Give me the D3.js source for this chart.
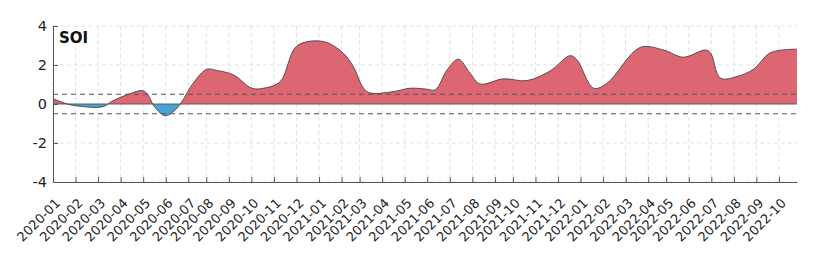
<!DOCTYPE html>
<html>
<head>
<meta charset="utf-8">
<script src="https://cdn.jsdelivr.net/npm/d3@7"></script>
<style>
  body { margin: 0; background: #fff; }
  svg { font-family: "DejaVu Sans", sans-serif; }
</style>
</head>
<body>
<div id="chart"></div>
<script>
// sample position (index along the axis) and SOI value
var pos = [0, 3.8, 6.7, 9.7, 11.5, 13, 16.4, 19.7, 20.8, 22.6, 24.9, 27.1, 28.6, 31.1, 34.1, 36.3,
  40, 44.1, 46.7, 50.4, 54.1, 60, 64.4, 66.6, 69.6, 74.8, 79.2, 82.9, 84.8, 87.4, 89.9, 92.5,
  94.7, 99.9, 105.1, 110.3, 114.7, 116.2, 119.9, 122.9, 130.2, 135.4, 139.8, 144.6, 145.8, 148,
  151.7, 155.4, 159.1, 165];
var soi = [0.27, -0.04, -0.13, -0.18, -0.1, 0.13, 0.47, 0.69, 0.55, -0.17, -0.6, -0.3, 0.13, 1.07, 1.78, 1.72,
  1.5, 0.81, 0.81, 1.15, 2.98, 3.2, 2.6, 1.92, 0.64, 0.61, 0.81, 0.76, 0.73, 1.75, 2.3, 1.58,
  1.03, 1.29, 1.2, 1.7, 2.48, 2.26, 0.81, 1.07, 2.9, 2.77, 2.4, 2.77, 2.63, 1.33,
  1.41, 1.79, 2.63, 2.81];

var tickPos = [0, 5, 10, 15, 20, 25, 30, 34, 39, 44, 49, 54, 59, 64, 68, 73, 78, 83, 88, 93, 98, 102,
  107, 112, 117, 122, 127, 132, 136, 141, 146, 151, 156, 161];
var tickLabels = ["2020-01", "2020-02", "2020-03", "2020-04", "2020-05", "2020-06", "2020-07", "2020-08",
  "2020-09", "2020-10", "2020-11", "2020-12", "2021-01", "2021-02", "2021-03", "2021-04", "2021-05",
  "2021-06", "2021-07", "2021-08", "2021-09", "2021-10", "2021-11", "2021-12", "2022-01", "2022-02",
  "2022-03", "2022-04", "2022-05", "2022-06", "2022-07", "2022-08", "2022-09", "2022-10"];
var yTicks = [-4, -2, 0, 2, 4];
var thresholds = [0.5, -0.5];

var width = 821, height = 261;
var margin = {left: 53, right: 24, top: 26, bottom: 79};

var svg = d3.select("#chart").append("svg")
    .attr("width", width)
    .attr("height", height);

var x = d3.scaleLinear().domain([0, 165]).range([margin.left, width - margin.right]);
var y = d3.scaleLinear().domain([-4, 4]).range([height - margin.bottom, margin.top]);

var data = pos.map(function(p, i) { return {p: p, v: soi[i]}; });

// grid
svg.append("g").selectAll("line")
  .data(tickPos).enter().append("line")
    .attr("x1", d => x(d)).attr("x2", d => x(d))
    .attr("y1", y(4)).attr("y2", y(-4))
    .attr("stroke", "#d9d9d9").attr("stroke-width", 0.8)
    .attr("stroke-dasharray", "4,3");
svg.append("g").selectAll("line")
  .data(yTicks).enter().append("line")
    .attr("x1", x(0)).attr("x2", x(165))
    .attr("y1", d => y(d)).attr("y2", d => y(d))
    .attr("stroke", "#d9d9d9").attr("stroke-width", 0.8)
    .attr("stroke-dasharray", "4,3");

// clips for positive / negative parts
var defs = svg.append("defs");
defs.append("clipPath").attr("id", "above").append("rect")
  .attr("x", x(0)).attr("y", y(4)).attr("width", x(165) - x(0)).attr("height", y(0) - y(4));
defs.append("clipPath").attr("id", "below").append("rect")
  .attr("x", x(0)).attr("y", y(0)).attr("width", x(165) - x(0)).attr("height", y(-4) - y(0));

var curve = d3.curveCatmullRom.alpha(0.5);

var area = d3.area()
  .curve(curve)
  .x(d => x(d.p))
  .y0(y(0))
  .y1(d => y(d.v));

var line = d3.line()
  .curve(curve)
  .x(d => x(d.p))
  .y(d => y(d.v));

svg.append("path").datum(data)
  .attr("clip-path", "url(#above)")
  .attr("fill", "#dc6672")
  .attr("d", area);
svg.append("path").datum(data)
  .attr("clip-path", "url(#below)")
  .attr("fill", "#4ba2d6")
  .attr("d", area);

svg.append("line")
  .attr("x1", x(0)).attr("x2", x(165))
  .attr("y1", y(0)).attr("y2", y(0))
  .attr("stroke", "#555").attr("stroke-width", 0.9);

svg.append("path").datum(data)
  .attr("fill", "none")
  .attr("stroke", "#444")
  .attr("stroke-width", 0.9)
  .attr("d", line);

// threshold lines
svg.append("g").selectAll("line")
  .data(thresholds).enter().append("line")
    .attr("x1", x(0)).attr("x2", x(165))
    .attr("y1", d => y(d)).attr("y2", d => y(d))
    .attr("stroke", "#555").attr("stroke-width", 1.1)
    .attr("stroke-dasharray", "5,4");

// axes
var xAxis = svg.append("g")
  .attr("transform", "translate(0," + y(-4) + ")")
  .call(d3.axisBottom(x).tickValues(tickPos).tickSizeInner(-5).tickSizeOuter(0).tickFormat(""));
xAxis.select(".domain").attr("stroke", "#555");
xAxis.selectAll(".tick line").attr("stroke", "#555");

svg.append("g").selectAll("text")
  .data(tickPos).enter().append("text")
    .attr("transform", (d, i) => "translate(" + (x(d) + 8) + "," + (y(-4) + 22) + ") rotate(-45)")
    .attr("text-anchor", "end")
    .attr("font-size", 13)
    .attr("fill", "#222")
    .text((d, i) => tickLabels[i]);

var yAxis = svg.append("g")
  .attr("transform", "translate(" + x(0) + ",0)")
  .call(d3.axisLeft(y).tickValues(yTicks).tickSizeInner(-5).tickSizeOuter(0).tickPadding(6).tickFormat(d => String(d)));
yAxis.select(".domain").attr("stroke", "#555");
yAxis.selectAll(".tick line").attr("stroke", "#555");
yAxis.selectAll(".tick text")
  .attr("font-size", 14.5)
  .attr("font-family", "DejaVu Sans")
  .attr("fill", "#222");

// label
svg.append("rect")
  .attr("x", x(0) + 3).attr("y", y(4) + 2).attr("width", 38).attr("height", 20)
  .attr("fill", "#fff");
svg.append("text")
  .attr("x", x(0) + 6).attr("y", y(4) + 16.5)
  .attr("font-size", 15)
  .attr("font-weight", "bold")
  .attr("fill", "#111")
  .text("SOI");
</script>
</body>
</html>
